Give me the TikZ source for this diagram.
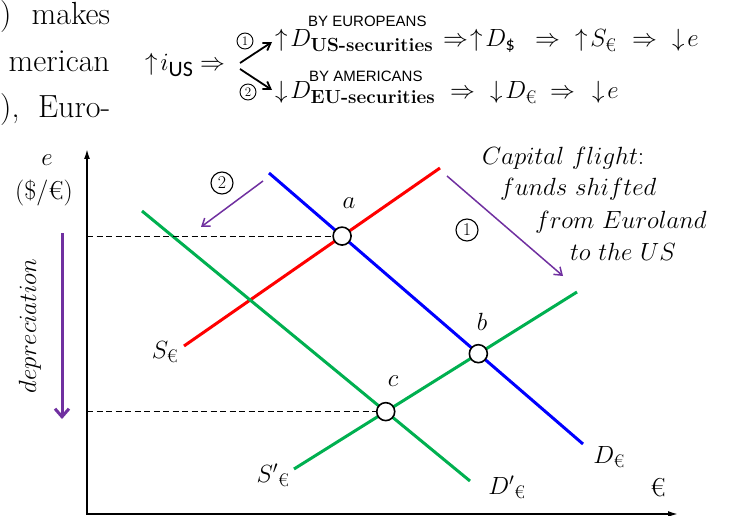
\documentclass[tikz,border=0pt]{standalone}
\usepackage{fontspec}
\usepackage{amsmath}
\usetikzlibrary{arrows.meta}
\newfontfamily\lsans{Liberation Sans}
\newfontfamily\carl{Carlito}
\definecolor{cblue}{RGB}{0,0,255}
\definecolor{cred}{RGB}{255,0,0}
\definecolor{cgreen}{RGB}{0,176,80}
\definecolor{cpurple}{RGB}{112,48,160}
\newcommand{\subbf}[1]{\text{\fontsize{19}{20}\selectfont\bfseries #1}}
\begin{document}
\begin{tikzpicture}[x=1pt,y=-1pt,
  para/.style={inner sep=0pt,font=\fontsize{32}{38}\selectfont},
  fml/.style={inner sep=0pt,anchor=base west,font=\fontsize{26}{30}\selectfont},
  bytxt/.style={inner sep=0pt,anchor=base west,font=\lsans\fontsize{15}{15}\selectfont},
  cnum/.style={circle,draw=black,line width=0.9pt,minimum size=16pt,inner sep=0pt,font=\fontsize{13}{13}\selectfont},
  bignum/.style={circle,draw=black,line width=1.1pt,minimum size=22pt,inner sep=0pt,font=\fontsize{18}{18}\selectfont},
  lbl/.style={inner sep=0pt,font=\fontsize{26}{30}\selectfont},
  caption/.style={inner sep=0pt,anchor=west,font=\fontsize{25.5}{30}\selectfont},
  curve/.style={line width=3pt},
  axis/.style={line width=1.6pt,{Latex[length=10pt,width=6pt]}-{Latex[length=10pt,width=6pt]}},
  guide/.style={line width=1pt,dash pattern=on 6pt off 3.5pt},
  eqpt/.style={circle,draw=black,fill=white,line width=1.6pt,minimum size=18pt,inner sep=0pt},
  shiftarrow/.style={cpurple,line width=1.5pt,-{Straight Barb[length=7pt,width=10pt]}},
  branch/.style={black,line width=1.8pt,-{Straight Barb[length=7pt,width=9pt]}}
]
\useasboundingbox (0,0) rectangle (731,516);

% cropped paragraph text
\node[para,anchor=base west] (p1) at (0,25) {\makebox[110pt][s]{)\ makes}};
\node[para,anchor=base east] (p2) at (110,72) {merican};
\node[para,anchor=base west] (p3) at (0,118) {\makebox[110pt][s]{),\ Euro-}};

% top formula
\node[fml] (iu) at (145,71) {$\uparrow\! i_{\text{\carl\fontsize{22}{22}\selectfont US}}$};
\node[fml] (iuar) at (200,71) {$\Rightarrow$};
\coordinate (bs1) at (240,63);
\coordinate (bs2) at (240,69);
\coordinate (be1) at (272,42);
\coordinate (be2) at (272,90);
\draw[branch] (bs1) -- (be1);
\draw[branch] (bs2) -- (be2);
\node[cnum] (n1) at (245,41) {1};
\node[cnum] (n2) at (248,92) {2};
% row 1
\node[fml] (r1a) at (275,47) {$\uparrow\! D_{\subbf{US-securities}}$};
\node[fml] (r1b) at (443,47) {$\Rightarrow$};
\node[fml] (r1c) at (470,47) {$\uparrow\! D_{\text{\carl\$}}$};
\node[fml] (r1d) at (535,47) {$\Rightarrow$};
\node[fml] (r1e) at (575,47) {$\uparrow\! S_{\text{€}}$};
\node[fml] (r1f) at (632,47) {$\Rightarrow$};
\node[fml] (r1g) at (672,47) {$\downarrow\! e$};
\node[bytxt] (by1) at (308,27) {BY EUROPEANS};
% row 2
\node[fml] (r2a) at (275,99) {$\downarrow\! D_{\subbf{EU-securities}}$};
\node[fml] (r2b) at (450,99) {$\Rightarrow$};
\node[fml] (r2c) at (490,99) {$\downarrow\! D_{\text{€}}$};
\node[fml] (r2d) at (550,99) {$\Rightarrow$};
\node[fml] (r2e) at (592,99) {$\downarrow\! e$};
\node[bytxt] (by2) at (309,82) {BY AMERICANS};

% axes
\coordinate (O) at (87,514);
\coordinate (ytop) at (87,149);
\coordinate (xend) at (678,514);
\draw[axis] (ytop) -- (O) -- (xend);
\node[lbl] (elab) at (47,160) {$e$};
\node[lbl] (unit) at (44,193) {(\$/€)};
\node[lbl] (eur) at (658,488) {€};

% depreciation
\node[lbl,rotate=90,font=\fontsize{28}{30}\selectfont] (dep) at (30,326) {$depreciation$};
\coordinate (dp1) at (62,233);
\coordinate (dp2) at (62,419);
\draw[cpurple,line width=3pt,-{Straight Barb[length=8pt,width=14pt]}] (dp1) -- (dp2);

% curves
\coordinate (Se1) at (184,346); \coordinate (Se2) at (440,168);
\coordinate (De1) at (269,173); \coordinate (De2) at (583,444);
\coordinate (Dp1) at (142,211); \coordinate (Dp2) at (470,481);
\coordinate (Sp1) at (294,469); \coordinate (Sp2) at (577,292);
\draw[curve,cred] (Se1) -- (Se2);
\draw[curve,cblue] (De1) -- (De2);
\draw[curve,cgreen] (Dp1) -- (Dp2);
\draw[curve,cgreen] (Sp1) -- (Sp2);

\coordinate (ia) at (intersection of Se1--Se2 and De1--De2);
\coordinate (ib) at (intersection of Sp1--Sp2 and De1--De2);
\coordinate (ic) at (intersection of Sp1--Sp2 and Dp1--Dp2);

\draw[guide] (O |- ia) -- (ia);
\draw[guide] (O |- ic) -- (ic);

\node[eqpt] (a) at (ia) {};
\node[eqpt] (b) at (ib) {};
\node[eqpt] (c) at (ic) {};
\node[lbl] (la) at (349,203) {$a$};
\node[lbl] (lb) at (482,322) {$b$};
\node[lbl] (lc) at (393,381) {$c$};

\node[lbl] (lSe) at (165,352) {$S_{\text{€}}$};
\node[lbl] (lSp) at (273,475) {$S'{}_{\text{€}}$};
\node[lbl] (lDe) at (609,457) {$D_{\text{€}}$};
\node[lbl] (lDp) at (507,487) {$D'{}_{\text{€}}$};

% shift arrows
\coordinate (s1a) at (447,176); \coordinate (s1b) at (563,276);
\coordinate (s2a) at (263,181); \coordinate (s2b) at (201,227);
\draw[shiftarrow] (s1a) -- (s1b);
\draw[shiftarrow] (s2a) -- (s2b);
\node[bignum] (m1) at (467,230) {1};
\node[bignum] (m2) at (222,183) {2};

% caption
\node[caption] (c1) at (482,158) {$Capital\ flight$:};
\node[caption] (c2) at (500,189) {$funds\ shifted$};
\node[caption] (c3) at (535,222) {$from\ Euroland$};
\node[caption] (c4) at (570,252) {$to\ the\ US$};
\end{tikzpicture}
\end{document}
